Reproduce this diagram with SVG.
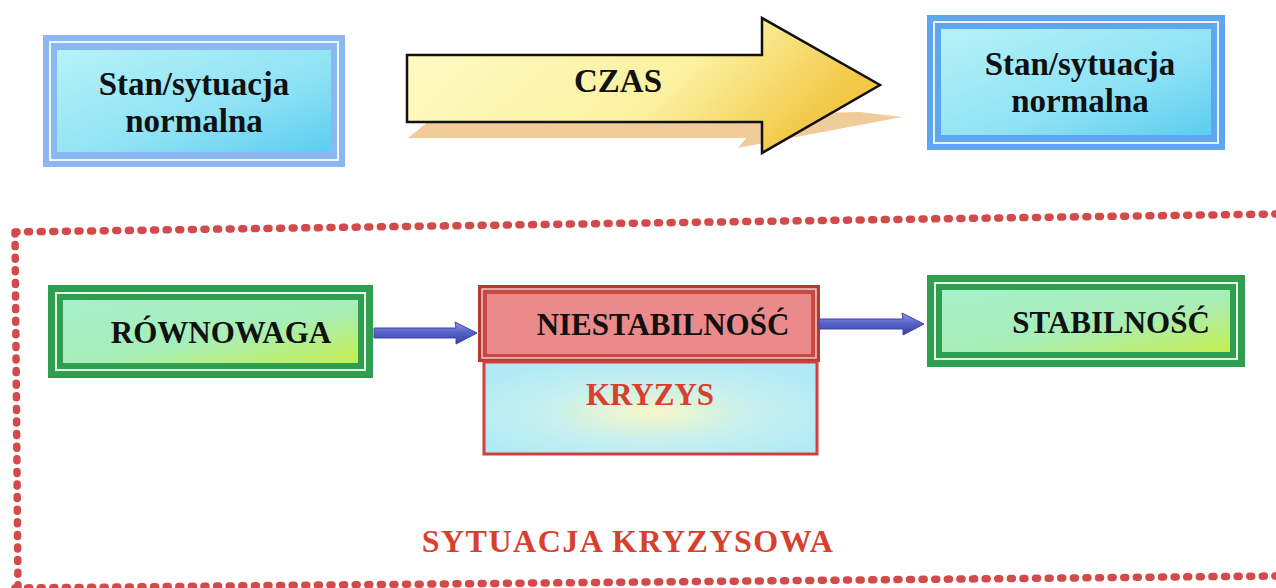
<svg xmlns="http://www.w3.org/2000/svg" width="1276" height="588" viewBox="0 0 1276 588">
  <defs>
    <style>
      .lbl { font-family: "Liberation Serif", "Times New Roman", serif; font-weight: bold; text-anchor: middle; fill: #111; }
      .big { font-size: 33px; }
      .mid { font-size: 31px; }
      .red { fill: #d8402e; }
      .dots { fill: none; stroke: #d24a4a; stroke-width: 7.5; stroke-linecap: round; stroke-dasharray: 2 10.6; }
      .flow { fill: url(#flowGrad); stroke: #3d44a8; stroke-width: 1; }
    </style>
    <linearGradient id="skyFill" x1="0" y1="0" x2="1" y2="1">
      <stop offset="0" stop-color="#b6f2f8"/>
      <stop offset="0.6" stop-color="#8ee2f4"/>
      <stop offset="1" stop-color="#5ccdf0"/>
    </linearGradient>
    <linearGradient id="mintFill" x1="0" y1="0" x2="1" y2="1">
      <stop offset="0" stop-color="#a6f0cc"/>
      <stop offset="0.55" stop-color="#a8eeb8"/>
      <stop offset="1" stop-color="#c6ef52"/>
    </linearGradient>
    <linearGradient id="arrowFill" x1="0" y1="0" x2="1" y2="0.3">
      <stop offset="0" stop-color="#fefcc8"/>
      <stop offset="0.65" stop-color="#fbf1a0"/>
      <stop offset="1" stop-color="#f2c846"/>
    </linearGradient>
    <radialGradient id="crisisFill" cx="0.5" cy="0.55" r="0.6">
      <stop offset="0" stop-color="#f6f8c6"/>
      <stop offset="0.5" stop-color="#c8f0ee"/>
      <stop offset="1" stop-color="#b0eaf6"/>
    </radialGradient>
    <linearGradient id="flowGrad" x1="0" y1="0" x2="0" y2="1">
      <stop offset="0" stop-color="#8a96e6"/>
      <stop offset="0.5" stop-color="#5560c8"/>
      <stop offset="1" stop-color="#3a40a0"/>
    </linearGradient>
  </defs>

  <rect width="1276" height="588" fill="#ffffff"/>

  <!-- dotted frame of the crisis area -->
  <g id="crisis-frame">
    <path class="dots" d="M15,232 L1276,214 M15,232 L18,588 M15,588 L1276,576"/>
  </g>

  <!-- normal state, left -->
  <g id="normal-left">
    <rect x="43" y="35" width="302" height="132" fill="#8cb8f2"/>
    <rect x="50" y="42" width="288" height="118" fill="#8cb8f2" stroke="#eef6ff" stroke-width="2"/>
    <rect x="57" y="50" width="274" height="102" fill="url(#skyFill)"/>
    <text class="lbl big" x="194" y="95">Stan/sytuacja</text>
    <text class="lbl big" x="194" y="132">normalna</text>
  </g>

  <!-- time arrow -->
  <g id="time-arrow">
    <polygon points="408,138 430,120 860,112 902,117 738,148 746,138" fill="#ecc388" opacity="0.85"/>
    <polygon points="407,55 762,55 762,18 880,85 762,153 762,122 407,122" fill="url(#arrowFill)" stroke="#111" stroke-width="2.5" stroke-linejoin="miter"/>
    <text class="lbl big" x="618" y="92">CZAS</text>
  </g>

  <!-- normal state, right -->
  <g id="normal-right">
    <rect x="927" y="15" width="298" height="135" fill="#5ea6f0"/>
    <rect x="934" y="22" width="284" height="121" fill="#5ea6f0" stroke="#e8f4ff" stroke-width="2"/>
    <rect x="941" y="29" width="270" height="106" fill="url(#skyFill)"/>
    <text class="lbl big" x="1080" y="75">Stan/sytuacja</text>
    <text class="lbl big" x="1080" y="112">normalna</text>
  </g>

  <!-- equilibrium -->
  <g id="rownowaga">
    <rect x="48" y="285" width="325" height="93" fill="#2f9e4e"/>
    <rect x="56" y="293" width="309" height="77" fill="#2f9e4e" stroke="#e6f8ea" stroke-width="2"/>
    <rect x="63" y="300" width="295" height="63" fill="url(#mintFill)"/>
    <text class="lbl mid" x="221" y="343">RÓWNOWAGA</text>
  </g>

  <!-- instability -->
  <g id="niestabilnosc">
    <rect x="478" y="285" width="342" height="77" fill="#b43a34"/>
    <rect x="482" y="289" width="334" height="69" fill="#c84a44" stroke="#f2c8c4" stroke-width="1.5"/>
    <rect x="487" y="294" width="324" height="60" fill="#ea8a8a"/>
    <text class="lbl mid" x="663" y="335">NIESTABILNOŚĆ</text>
  </g>

  <!-- crisis -->
  <g id="kryzys">
    <rect x="484" y="362" width="333" height="92" fill="url(#crisisFill)" stroke="#d2403c" stroke-width="3"/>
    <text class="lbl mid red" x="650" y="405">KRYZYS</text>
  </g>

  <!-- stability -->
  <g id="stabilnosc">
    <rect x="927" y="275" width="318" height="92" fill="#2f9e4e"/>
    <rect x="935" y="283" width="302" height="76" fill="#2f9e4e" stroke="#e6f8ea" stroke-width="2"/>
    <rect x="942" y="290" width="288" height="62" fill="url(#mintFill)"/>
    <text class="lbl mid" x="1111" y="333">STABILNOŚĆ</text>
  </g>

  <!-- flow connectors -->
  <g id="connectors">
    <polygon class="flow" points="374,328 456,328 455,322 477,333 456,344 456,338 374,338"/>
    <polygon class="flow" points="819,319 903,319 902,313 924,324 903,335 903,329 819,329"/>
  </g>

  <!-- caption of the crisis area -->
  <g id="caption">
    <text class="lbl red" x="628" y="552" font-size="32" letter-spacing="1.5" fill="#e0523e">SYTUACJA KRYZYSOWA</text>
  </g>
</svg>
